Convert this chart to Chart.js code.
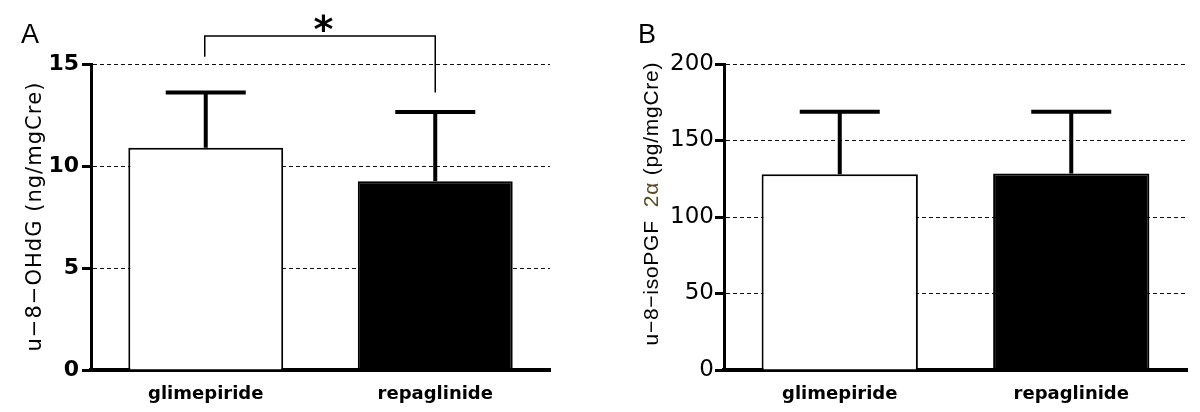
<!DOCTYPE html>
<html>
<head>
<meta charset="utf-8">
<script src="https://cdn.jsdelivr.net/npm/chart.js@4.4.1/dist/chart.umd.min.js"></script>
<style>
  body { margin: 0; background: #fff; }
  #wrap { position: relative; width: 1200px; height: 412px; }
  .panel { position: absolute; top: 0; width: 600px; height: 412px; }
</style>
</head>
<body>
<div id="wrap">
  <div class="panel" style="left:0"><canvas id="chartA" width="600" height="412"></canvas></div>
  <div class="panel" style="left:600px"><canvas id="chartB" width="600" height="412"></canvas></div>
</div>
<script>
// === data ===
const groups = ['glimepiride', 'repaglinide'];
const ohdgMean = [10.9, 9.25];
const ohdgSD = [2.7, 3.4];
const isoMean = [128, 128.5];
const isoSD = [40.8, 40.3];
const ohdgTicks = [0, 5, 10, 15];
const isoTicks = [0, 50, 100, 150, 200];
const barFills = ['#ffffff', '#000000'];
// significance bracket, in y units: left leg end, bar level, right leg end
const sigBracket = [15.35, 16.37, 13.6];

// error bars (mean + SD only, like the original)
const errorBars = {
  id: 'errorBars',
  afterDatasetsDraw(chart, args, o) {
    const ctx = chart.ctx, y = chart.scales.y;
    const meta = chart.getDatasetMeta(0);
    ctx.save();
    ctx.strokeStyle = '#000';
    ctx.lineWidth = 4;
    meta.data.forEach((bar, i) => {
      const top = y.getPixelForValue(o.means[i] + o.sds[i]);
      ctx.beginPath();
      ctx.moveTo(bar.x, bar.y);
      ctx.lineTo(bar.x, top);
      ctx.moveTo(bar.x - 40, top);
      ctx.lineTo(bar.x + 40, top);
      ctx.stroke();
    });
    ctx.restore();
  }
};

// rotated y title, stretched to a given length
const yTitle = {
  id: 'yTitle',
  afterDraw(chart, args, o) {
    const ctx = chart.ctx;
    ctx.save();
    ctx.translate(o.x, o.y);
    ctx.rotate(-Math.PI / 2);
    ctx.font = o.font;
    ctx.textBaseline = 'middle';
    const chars = [];
    o.parts.forEach(p => [...p.text].forEach(ch => chars.push({ ch, color: p.color })));
    const natural = chars.reduce((s, c) => s + ctx.measureText(c.ch).width, 0);
    const sp = (o.length - natural) / (chars.length - 1);
    let cx = -o.length / 2;
    chars.forEach(c => {
      ctx.fillStyle = c.color;
      ctx.fillText(c.ch, cx, 0);
      cx += ctx.measureText(c.ch).width + sp;
    });
    ctx.restore();
  }
};

// panel letter + significance bracket
const annot = {
  id: 'annot',
  afterDraw(chart, args, o) {
    const ctx = chart.ctx;
    ctx.save();
    ctx.fillStyle = '#000';
    ctx.font = '27px "Liberation Sans"';
    ctx.textBaseline = 'alphabetic';
    ctx.fillText(o.letter, o.letterX, 43);
    if (o.bracket) {
      const x = chart.scales.x, y = chart.scales.y;
      const x1 = x.getPixelForValue(0), x2 = x.getPixelForValue(1);
      const b = o.bracket.map(v => y.getPixelForValue(v));
      ctx.strokeStyle = '#000';
      ctx.lineWidth = 1.5;
      ctx.beginPath();
      ctx.moveTo(x1 - 1, b[0]);
      ctx.lineTo(x1 - 1, b[1]);
      ctx.lineTo(x2, b[1]);
      ctx.lineTo(x2, b[2]);
      ctx.stroke();
      ctx.font = 'bold 38px "DejaVu Sans"';
      ctx.textAlign = 'center';
      ctx.fillText('*', (x1 + x2) / 2 + 3, 42);
    }
    ctx.restore();
  }
};

function makeChart(id, means, sds, ticks, cfg) {
  return new Chart(document.getElementById(id), {
    type: 'bar',
    data: {
      labels: groups,
      datasets: [{
        data: means,
        backgroundColor: barFills,
        borderColor: '#000',
        borderWidth: 2,
        categoryPercentage: 1,
        barPercentage: 0.675
      }]
    },
    options: {
      responsive: false,
      animation: false,
      layout: { padding: { top: 64, right: cfg.padRight, left: 0, bottom: 0 } },
      plugins: {
        legend: { display: false },
        tooltip: { enabled: false },
        errorBars: { means, sds },
        yTitle: cfg.title,
        annot: cfg.annot
      },
      scales: {
        x: {
          afterFit: s => { s.height = 42; },
          grid: { display: false },
          border: { display: true, color: '#000', width: 4 },
          ticks: { color: '#000', font: { family: 'DejaVu Sans', weight: 'bold', size: 18 }, padding: 6 }
        },
        y: {
          min: 0,
          max: ticks[ticks.length - 1],
          afterBuildTicks: s => { s.ticks = ticks.map(v => ({ value: v })); },
          afterFit: s => { s.width = cfg.axisWidth; },
          grid: { color: '#111', lineWidth: 1, tickLength: 9, tickWidth: 3, tickColor: '#000' },
          border: { display: true, color: '#000', width: 3, dash: [4, 3] },
          ticks: { color: '#000', font: cfg.tickFont, padding: cfg.tickPad }
        }
      }
    },
    plugins: [errorBars, yTitle, annot]
  });
}

makeChart('chartA', ohdgMean, ohdgSD, ohdgTicks, {
  padRight: 50,
  axisWidth: 91,
  tickPad: 3,
  tickFont: { family: 'DejaVu Sans', weight: 'bold', size: 22 },
  title: {
    x: 36, y: 217, length: 269, font: '21px "DejaVu Sans"',
    parts: [{ text: 'u−8−OHdG (ng/mgCre)', color: '#000' }]
  },
  annot: { letter: 'A', letterX: 21, bracket: sigBracket }
});

makeChart('chartB', isoMean, isoSD, isoTicks, {
  padRight: 13,
  axisWidth: 124,
  tickPad: 1,
  tickFont: { family: 'DejaVu Sans', size: 23 },
  title: {
    x: 52, y: 204, length: 283, font: '21px "Liberation Sans"',
    parts: [
      { text: 'u−8−isoPGF  ', color: '#000' },
      { text: '2α', color: '#5b4a1e' },
      { text: ' (pg/mgCre)', color: '#000' }
    ]
  },
  annot: { letter: 'B', letterX: 38 }
});
</script>
</body>
</html>
